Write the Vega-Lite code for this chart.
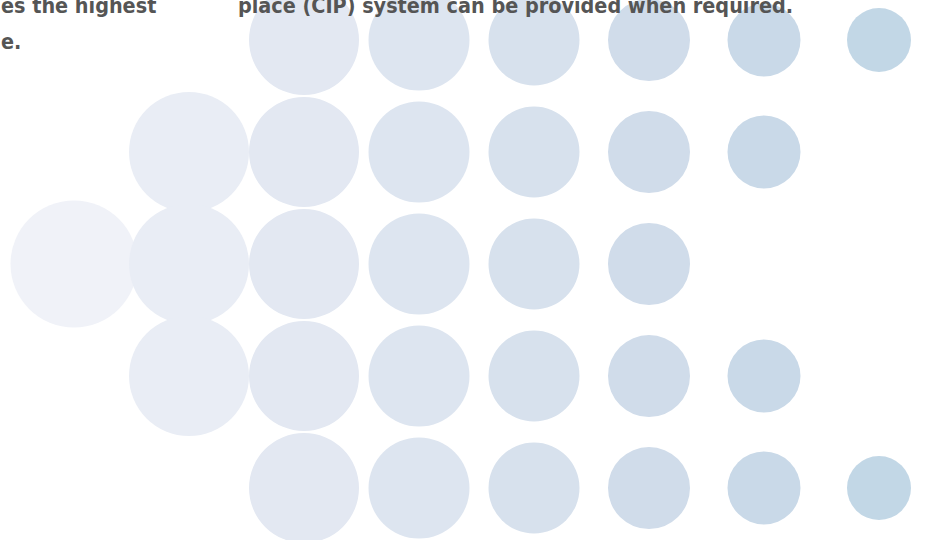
{
  "$schema": "https://vega.github.io/schema/vega-lite/v6.json",
  "width": 926,
  "height": 540,
  "autosize": {"type": "none"},
  "padding": 0,
  "background": "#ffffff",
  "config": {"view": {"stroke": null}},
  "datasets": {
    "dots": [
      {"col": 1, "row": 3, "radius": 63.5},
      {"col": 2, "row": 2, "radius": 60}, {"col": 2, "row": 3, "radius": 60}, {"col": 2, "row": 4, "radius": 60},
      {"col": 3, "row": 1, "radius": 55}, {"col": 3, "row": 2, "radius": 55}, {"col": 3, "row": 3, "radius": 55}, {"col": 3, "row": 4, "radius": 55}, {"col": 3, "row": 5, "radius": 55},
      {"col": 4, "row": 1, "radius": 50.5}, {"col": 4, "row": 2, "radius": 50.5}, {"col": 4, "row": 3, "radius": 50.5}, {"col": 4, "row": 4, "radius": 50.5}, {"col": 4, "row": 5, "radius": 50.5},
      {"col": 5, "row": 1, "radius": 45.5}, {"col": 5, "row": 2, "radius": 45.5}, {"col": 5, "row": 3, "radius": 45.5}, {"col": 5, "row": 4, "radius": 45.5}, {"col": 5, "row": 5, "radius": 45.5},
      {"col": 6, "row": 1, "radius": 41}, {"col": 6, "row": 2, "radius": 41}, {"col": 6, "row": 3, "radius": 41}, {"col": 6, "row": 4, "radius": 41}, {"col": 6, "row": 5, "radius": 41},
      {"col": 7, "row": 1, "radius": 36.5}, {"col": 7, "row": 2, "radius": 36.5}, {"col": 7, "row": 4, "radius": 36.5}, {"col": 7, "row": 5, "radius": 36.5},
      {"col": 8, "row": 1, "radius": 32}, {"col": 8, "row": 5, "radius": 32}
    ],
    "texts": [
      {"col": 0.365, "row": 0.759, "label": "es the highest"},
      {"col": 0.365, "row": 1.083, "label": "e."},
      {"col": 2.426, "row": 0.759, "label": "place (CIP) system can be provided when required."}
    ]
  },
  "layer": [
    {
      "data": {"name": "dots"},
      "mark": {"type": "point", "shape": "circle", "filled": true, "opacity": 1, "strokeWidth": 0},
      "encoding": {
        "x": {"field": "col", "type": "quantitative", "scale": {"domain": [0.3565, 8.4087], "nice": false, "zero": false}, "axis": null},
        "y": {"field": "row", "type": "quantitative", "scale": {"domain": [0.643, 5.464], "nice": false, "zero": false, "reverse": true}, "axis": null},
        "size": {"field": "radius", "type": "quantitative", "scale": {"type": "pow", "exponent": 2, "domain": [0, 63.5], "range": [0, 16129]}, "legend": null},
        "color": {"field": "col", "type": "ordinal", "scale": {"domain": [1, 2, 3, 4, 5, 6, 7, 8], "range": ["#f0f2f8", "#e9edf5", "#e3e8f2", "#dde5f0", "#d7e1ed", "#d0dcea", "#c9d9e8", "#c2d7e6"]}, "legend": null}
      }
    },
    {
      "data": {"name": "texts"},
      "mark": {"type": "text", "align": "left", "baseline": "alphabetic", "font": "DejaVu Sans Condensed", "fontWeight": "bold", "fontSize": 21.4, "color": "#555555"},
      "encoding": {
        "x": {"field": "col", "type": "quantitative"},
        "y": {"field": "row", "type": "quantitative"},
        "text": {"field": "label"}
      }
    }
  ]
}
